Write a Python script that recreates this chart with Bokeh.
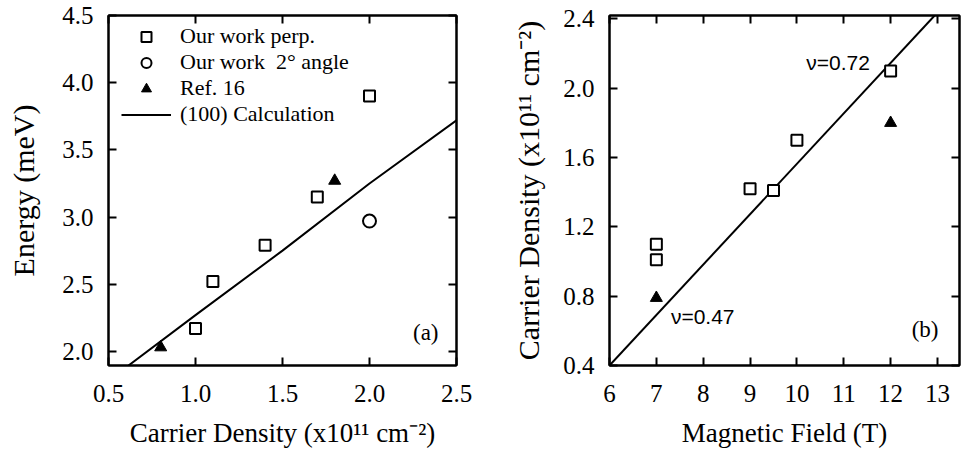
from bokeh.plotting import figure
from bokeh.layouts import row
from bokeh.models import (Legend, LegendItem, LinearAxis, FixedTicker,
                          PrintfTickFormatter, Label)
from bokeh.embed import file_html
from bokeh.resources import INLINE

# ---- panel (a) data ----
a_perp_x = [1.0, 1.1, 1.4, 1.7, 2.0]
a_perp_y = [2.17, 2.52, 2.79, 3.15, 3.90]
a_angle_x = [2.0]
a_angle_y = [2.97]
a_ref_x = [0.8, 1.8]
a_ref_y = [2.03, 3.27]
a_calc_x = [0.615, 1.0, 1.5, 2.0, 2.5]
a_calc_y = [1.895, 2.27, 2.75, 3.25, 3.72]
a_xticks = [0.5, 1.0, 1.5, 2.0, 2.5]
a_yticks = [2.0, 2.5, 3.0, 3.5, 4.0, 4.5]

# ---- panel (b) data ----
b_perp_x = [7, 7, 9, 9.5, 10, 12]
b_perp_y = [1.10, 1.01, 1.42, 1.41, 1.70, 2.10]
b_ref_x = [7, 12]
b_ref_y = [0.79, 1.80]
b_line_x = [6.0, 12.94]
b_line_y = [0.40, 2.42]
b_xticks = [6, 7, 8, 9, 10, 11, 12, 13]
b_yticks = [0.4, 0.8, 1.2, 1.6, 2.0, 2.4]

SERIF = "Liberation Serif"
SANS = "Liberation Sans"


def mirror_axis(ticks):
    return LinearAxis(ticker=FixedTicker(ticks=ticks),
                      major_label_text_font_size="1px",
                      major_label_text_color=None,
                      major_tick_in=8, major_tick_out=0, major_tick_line_width=2,
                      minor_tick_line_color=None, axis_line_width=2,
                      major_label_standoff=0)


def style(p, xt, yt, xfmt, yfmt):
    p.outline_line_color = "black"
    p.outline_line_width = 2
    p.grid.visible = False
    p.background_fill_color = "white"
    p.border_fill_color = "white"
    for ax in p.xaxis + p.yaxis:
        ax.axis_line_width = 2
        ax.major_tick_line_width = 2
        ax.major_tick_in = 8
        ax.major_tick_out = 0
        ax.minor_tick_line_color = None
        ax.major_label_text_font = SERIF
        ax.major_label_text_font_size = "25px"
        ax.major_label_text_color = "black"
        ax.axis_label_text_font = SERIF
        ax.axis_label_text_font_style = "normal"
        ax.axis_label_text_color = "black"
    p.xaxis.axis_label_text_font_size = "27px"
    p.yaxis.axis_label_text_font_size = "30px"
    p.xaxis.ticker = FixedTicker(ticks=xt)
    p.yaxis.ticker = FixedTicker(ticks=yt)
    p.xaxis.formatter = PrintfTickFormatter(format=xfmt)
    p.yaxis.formatter = PrintfTickFormatter(format=yfmt)
    p.xaxis.major_label_standoff = 19
    p.yaxis.major_label_standoff = 15
    p.add_layout(mirror_axis(xt), "above")
    p.add_layout(mirror_axis(yt), "right")


# ---------------- panel (a) ----------------
pa = figure(width=480, height=454, x_range=(0.5, 2.5), y_range=(1.895, 4.5),
            output_backend="svg", toolbar_location=None,
            min_border_left=108, min_border_right=24, min_border_top=14,
            min_border_bottom=88)
pa.xaxis.axis_label = "Carrier Density (x10¹¹ cm⁻²)"
pa.yaxis.axis_label = "Energy (meV)"
style(pa, a_xticks, a_yticks, "%.1f", "%.1f")
pa.xaxis.axis_label_standoff = 13
pa.yaxis.axis_label_standoff = 19

r_calc = pa.line(a_calc_x, a_calc_y, line_color="black", line_width=2)
r_perp = pa.scatter(a_perp_x, a_perp_y, marker="square", size=11,
                    fill_color="white", line_color="black", line_width=2)
r_angle = pa.scatter(a_angle_x, a_angle_y, marker="circle", size=13,
                     fill_color="white", line_color="black", line_width=2)
r_ref = pa.scatter(a_ref_x, a_ref_y, marker="triangle", size=12,
                   fill_color="black", line_color="black")

leg = Legend(items=[
    LegendItem(label="Our work perp.", renderers=[r_perp]),
    LegendItem(label="Our work  2° angle", renderers=[r_angle]),
    LegendItem(label="Ref. 16", renderers=[r_ref]),
    LegendItem(label="(100) Calculation", renderers=[r_calc]),
], location=(13, 238), border_line_color=None, background_fill_alpha=0,
    padding=0, margin=0, spacing=0, glyph_width=50, glyph_height=25,
    label_standoff=9, label_text_font=SERIF, label_text_font_size="22px",
    label_text_color="black", label_height=25)
pa.add_layout(leg, "center")

pa.add_layout(Label(x=2.25, y=2.14, text="(a)", text_font=SERIF,
                    text_font_size="23px", text_color="black",
                    text_baseline="middle"))

# ---------------- panel (b) ----------------
pb = figure(width=483, height=454, x_range=(6, 13.47), y_range=(0.4, 2.42),
            output_backend="svg", toolbar_location=None,
            min_border_left=129, min_border_right=4, min_border_top=15,
            min_border_bottom=89)
pb.xaxis.axis_label = "Magnetic Field (T)"
pb.yaxis.axis_label = "Carrier Density (x10¹¹ cm⁻²)"
style(pb, b_xticks, b_yticks, "%d", "%.1f")
pb.xaxis.axis_label_standoff = 13
pb.yaxis.axis_label_standoff = 15

pb.line(b_line_x, b_line_y, line_color="black", line_width=2)
pb.scatter(b_perp_x, b_perp_y, marker="square", size=11,
           fill_color="white", line_color="black", line_width=2)
pb.scatter(b_ref_x, b_ref_y, marker="triangle", size=12,
           fill_color="black", line_color="black")

pb.add_layout(Label(x=10.2, y=2.15, text="ν=0.72", text_font=SANS,
                    text_font_size="21px", text_color="black",
                    text_baseline="middle"))
pb.add_layout(Label(x=7.31, y=0.68, text="ν=0.47", text_font=SANS,
                    text_font_size="21px", text_color="black",
                    text_baseline="middle"))
pb.add_layout(Label(x=12.45, y=0.607, text="(b)", text_font=SERIF,
                    text_font_size="23px", text_color="black",
                    text_baseline="middle"))

layout = row(pa, pb)
open("out.html", "w").write(file_html(layout, INLINE))
